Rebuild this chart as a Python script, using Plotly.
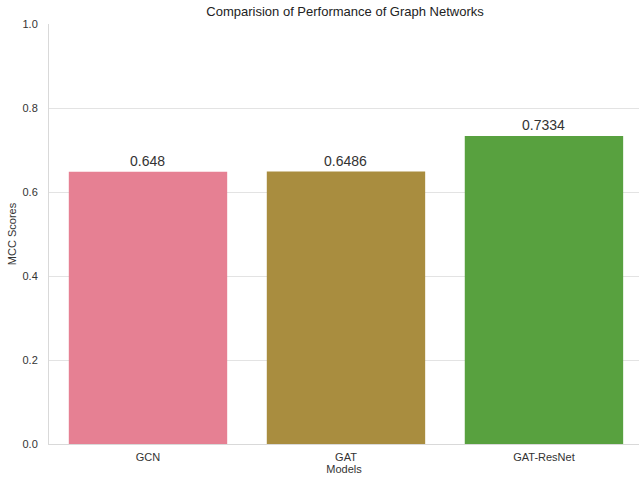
import plotly.graph_objects as go

models = ["GCN", "GAT", "GAT-ResNet"]
mcc_scores = [0.648, 0.6486, 0.7334]
bar_colors = ["#e68093", "#a98d3f", "#58a13f"]
y_ticks = [0.0, 0.2, 0.4, 0.6, 0.8, 1.0]

fig = go.Figure()
fig.add_trace(go.Bar(
    x=[0, 1, 2], y=mcc_scores, width=0.8,
    marker=dict(color=bar_colors, line=dict(width=0)),
    hoverinfo="skip",
))
for i, v in enumerate(mcc_scores):
    fig.add_annotation(x=i, y=v, text=str(v), showarrow=False,
                       yanchor="bottom", yshift=1,
                       font=dict(size=14, color="#333333", family="Liberation Sans, Arial, sans-serif"))

fig.update_layout(
    width=639, height=479,
    margin=dict(l=49, r=0, t=24, b=35),
    paper_bgcolor="white", plot_bgcolor="white",
    font=dict(family="Liberation Sans, Arial, sans-serif", color="#333333", size=11),
    title=dict(text="Comparision of Performance of Graph Networks", x=0.54, xanchor="center",
               yref="container", y=1, yanchor="top", pad=dict(t=7),
               font=dict(size=13, color="#222222")),
    showlegend=False,
)
fig.update_xaxes(
    range=[-0.5, 2.48], tickvals=[0, 1, 2], ticktext=models,
    showgrid=False, showline=True, linecolor="#d9d9d9", linewidth=1,
    ticks="", tickfont=dict(size=11, color="#333333"), zeroline=False, ticklabelstandoff=3,
    title=dict(text="Models", font=dict(size=11, color="#333333"), standoff=3),
)
fig.update_yaxes(
    range=[0, 1.0], tickvals=y_ticks, ticktext=[f"{t:.1f}" for t in y_ticks],
    showgrid=True, gridcolor="#e3e3e3", gridwidth=1, zeroline=False,
    showline=True, linecolor="#d9d9d9", linewidth=1, ticks="", ticklabelstandoff=8,
    tickfont=dict(size=11, color="#333333"),
    title=dict(text="MCC Scores", font=dict(size=11, color="#333333"), standoff=3),
)
fig.write_html("out.html", config={"displayModeBar": False},
               post_script="document.body.style.margin='0';document.body.style.overflow='hidden';")
